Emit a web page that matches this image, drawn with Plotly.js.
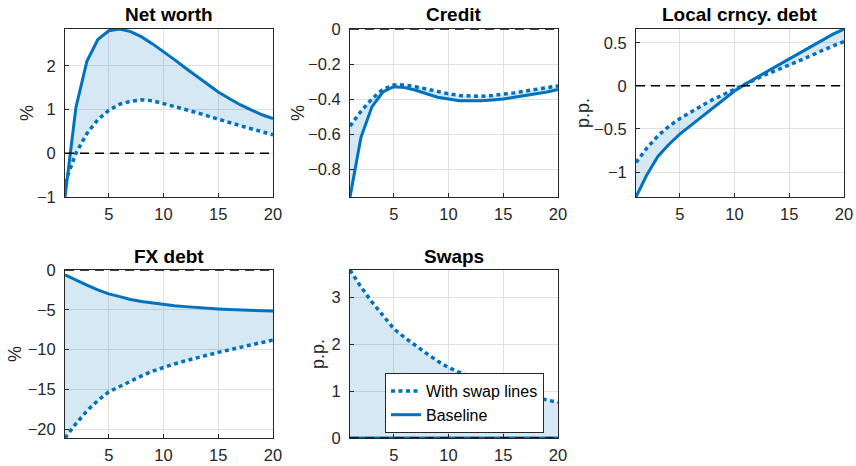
<!DOCTYPE html>
<html>
<head>
<meta charset="utf-8">
<script src="https://cdn.plot.ly/plotly-3.0.1.min.js"></script>
<style>html,body{margin:0;padding:0;background:#fff}#chart{width:856px;height:466px}</style>
</head>
<body>
<div id="chart"></div>
<script>
// ---------- data ----------
const periods = [1,2,3,4,5,6,7,8,9,10,11,12,13,14,15,16,17,18,19,20];

const netWorthSwap = [-0.68,0.0,0.45,0.77,0.98,1.12,1.19,1.22,1.2,1.14,1.07,1.0,0.93,0.85,0.77,0.7,0.63,0.56,0.49,0.42];
const netWorthBase = [-1.0,1.05,2.1,2.6,2.8,2.84,2.78,2.66,2.5,2.33,2.14,1.95,1.76,1.57,1.4,1.25,1.11,0.99,0.88,0.79];

const creditSwap = [-0.555,-0.47,-0.4,-0.345,-0.32,-0.32,-0.33,-0.345,-0.36,-0.37,-0.38,-0.385,-0.385,-0.38,-0.375,-0.365,-0.355,-0.345,-0.335,-0.325];
const creditBase = [-0.96,-0.62,-0.445,-0.36,-0.33,-0.335,-0.35,-0.37,-0.39,-0.4,-0.41,-0.41,-0.41,-0.405,-0.4,-0.39,-0.38,-0.37,-0.36,-0.345];

const localSwap = [-0.89,-0.72,-0.58,-0.47,-0.38,-0.3,-0.23,-0.16,-0.1,-0.03,0.03,0.09,0.14,0.19,0.24,0.3,0.35,0.41,0.46,0.515];
const localBase = [-1.29,-1.03,-0.82,-0.68,-0.56,-0.46,-0.36,-0.26,-0.16,-0.06,0.02,0.1,0.17,0.24,0.31,0.39,0.46,0.53,0.6,0.66];

const fxSwap = [-21.1,-19.3,-17.7,-16.4,-15.3,-14.6,-13.9,-13.3,-12.7,-12.2,-11.8,-11.4,-11.0,-10.7,-10.35,-10.0,-9.7,-9.4,-9.1,-8.8];
const fxBase = [-0.6,-1.3,-1.9,-2.5,-3.0,-3.35,-3.7,-3.95,-4.15,-4.33,-4.48,-4.6,-4.72,-4.82,-4.9,-4.97,-5.03,-5.08,-5.12,-5.15];

const swapsSwap = [3.58,3.22,2.9,2.6,2.33,2.14,1.96,1.8,1.64,1.5,1.4,1.3,1.2,1.12,1.04,0.98,0.92,0.86,0.81,0.76];
const swapsBase = [0,0,0,0,0,0,0,0,0,0,0,0,0,0,0,0,0,0,0,0];

const panelTitles = ["Net worth","Credit","Local crncy. debt","FX debt","Swaps"];
const panelYLabels = ["%","%","p.p.","%","p.p."];
const seriesNames = ["With swap lines","Baseline"];
const xTickVals = [5,10,15,20];

// ---------- drawing ----------
const BLUE = "#0072BD";
const FILL = "rgba(0,114,189,0.16)";
const AX = "#262626";
const FONT = "Liberation Sans, Arial, sans-serif";

const swapSets = [netWorthSwap, creditSwap, localSwap, fxSwap, swapsSwap];
const baseSets = [netWorthBase, creditBase, localBase, fxBase, swapsBase];

const W = 856, H = 466;
const cols = [[65,273],[350,558],[636,844]];
const rows = [[29,197],[270,438]];
const yRanges = [[-1,2.84],[-0.96,0],[-1.29,0.66],[-21.1,0],[0,3.58]];
const yTicks = [[-1,0,1,2],[-0.8,-0.6,-0.4,-0.2,0],[-1,-0.5,0,0.5],[-20,-15,-10,-5,0],[0,1,2,3]];
const yLabelX = [27,298,583,15,318];

const traces = [];
const layout = {
  width: W, height: H,
  margin: {l:0,r:0,t:0,b:0},
  paper_bgcolor: "#fff", plot_bgcolor: "#fff",
  font: {family: FONT, size: 16, color: AX},
  showlegend: true,
  legend: {
    x: 385/W, y: 1-433/H, xanchor: "left", yanchor: "bottom",
    bgcolor: "#fff", bordercolor: AX, borderwidth: 1, traceorder: "normal",
    font: {family: FONT, size: 16, color: "#000"},
    tracegroupgap: 0, itemwidth: 30
  },
  annotations: [], shapes: []
};

for (let i = 0; i < 5; i++) {
  const r = Math.floor(i/3), c = i%3;
  const xs = i === 0 ? "" : String(i+1);
  const xa = "x"+xs, ya = "y"+xs;
  const xd = [cols[c][0]/W, cols[c][1]/W];
  const yd = [1-rows[r][1]/H, 1-rows[r][0]/H];
  const common = {
    showline: true, linecolor: AX, linewidth: 1, mirror: true,
    ticks: "inside", ticklen: 4, tickcolor: AX,
    showgrid: true, gridcolor: "#e1e1e1", gridwidth: 1,
    zeroline: false, tickfont: {family: FONT, size: 16.5, color: AX}
  };
  layout["xaxis"+xs] = Object.assign({}, common, {
    domain: xd, anchor: ya, range: [1,20], tickvals: xTickVals, ticklabelstandoff: 2
  });
  layout["yaxis"+xs] = Object.assign({}, common, {
    domain: yd, anchor: xa, range: yRanges[i], tickvals: yTicks[i], ticklabelstandoff: 5
  });
  // fill band
  traces.push({x: periods, y: swapSets[i], xaxis: xa, yaxis: ya, mode: "lines",
    line: {width: 0, color: FILL}, showlegend: false, hoverinfo: "skip"});
  traces.push({x: periods, y: baseSets[i], xaxis: xa, yaxis: ya, mode: "lines",
    line: {width: 0, color: FILL}, fill: "tonexty", fillcolor: FILL, showlegend: false, hoverinfo: "skip"});
  // zero line
  layout.shapes.push({type: "line", xref: xa+" domain", yref: ya, x0: 0, x1: 1, y0: 0, y1: 0,
    line: {color: "#000", width: 1.5, dash: "9px,6px"}, layer: "above"});
  // lines
  traces.push({x: periods, y: swapSets[i], xaxis: xa, yaxis: ya, mode: "lines", name: seriesNames[0],
    line: {color: BLUE, width: 3.5, dash: "4px,3.5px"}, showlegend: i === 4});
  traces.push({x: periods, y: baseSets[i], xaxis: xa, yaxis: ya, mode: "lines", name: seriesNames[1],
    line: {color: BLUE, width: 3}, showlegend: i === 4});
  // title
  layout.annotations.push({text: "<b>"+panelTitles[i]+"</b>", xref: "paper", yref: "paper",
    x: (cols[c][0]+cols[c][1])/2/W, y: 1-(rows[r][0]-14)/H, xanchor: "center", yanchor: "middle",
    showarrow: false, font: {family: FONT, size: 19, color: "#000"}});
  // y label
  layout.annotations.push({text: panelYLabels[i], xref: "paper", yref: "paper",
    x: yLabelX[i]/W, y: 1-((rows[r][0]+rows[r][1])/2)/H, xanchor: "center", yanchor: "middle",
    textangle: -90, showarrow: false, font: {family: FONT, size: 18, color: AX}});
}

Plotly.newPlot("chart", traces, layout, {staticPlot: true});
</script>
</body>
</html>
